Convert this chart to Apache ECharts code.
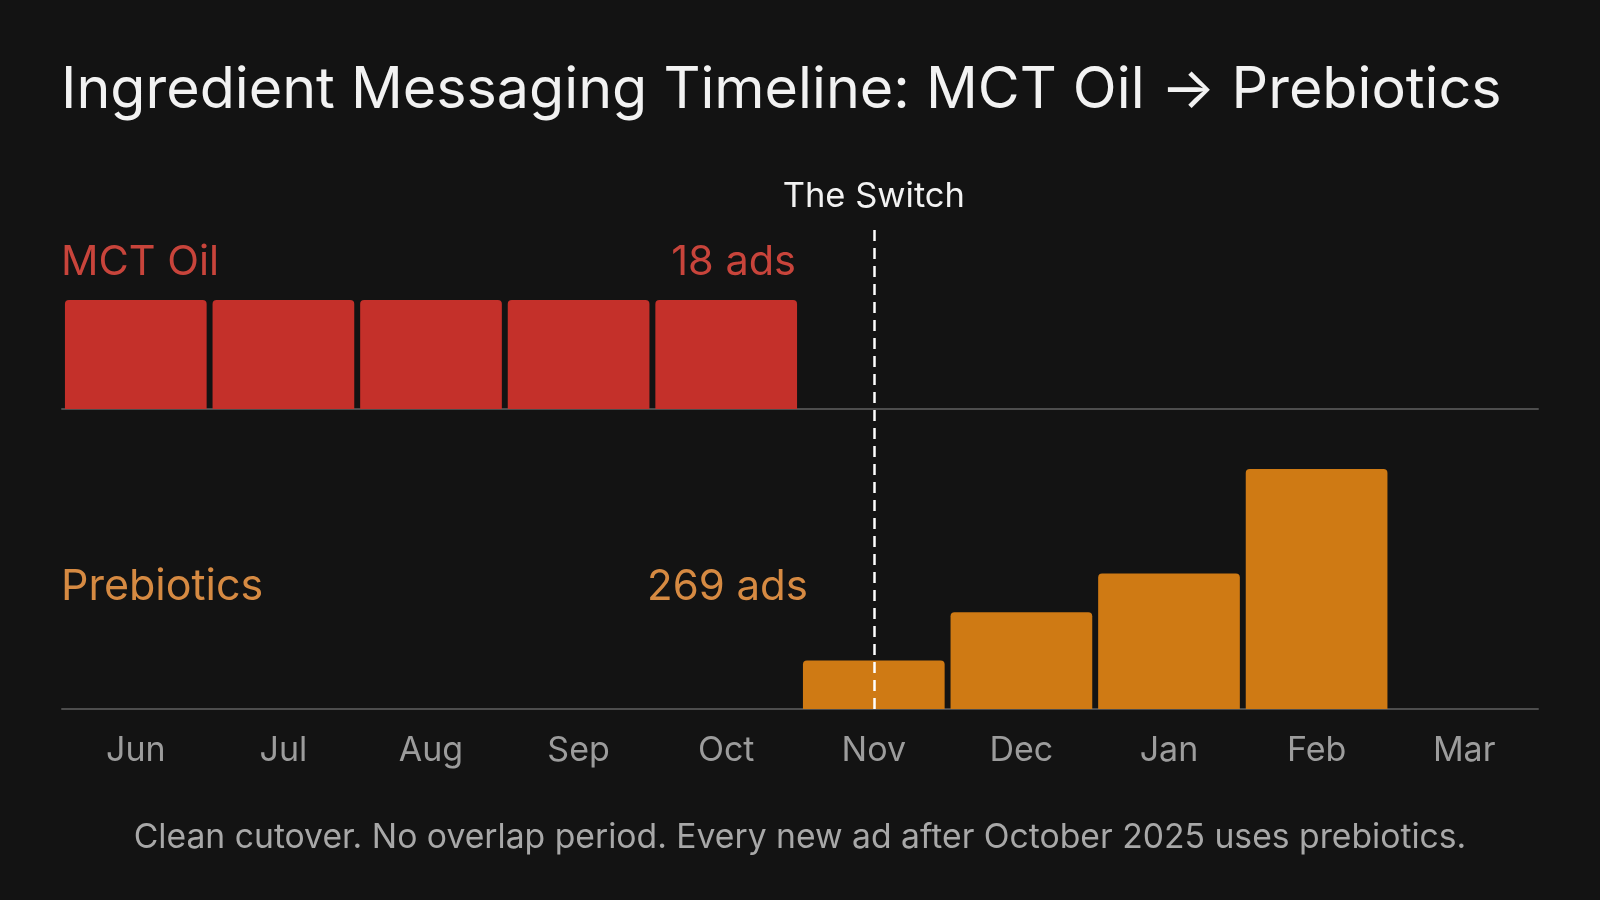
<!DOCTYPE html>
<html>
<head>
<meta charset="utf-8">
<script src="https://cdn.jsdelivr.net/npm/echarts@6/dist/echarts.min.js"></script>
<style>
  html, body { margin: 0; padding: 0; background: #131313; }
  #chart { width: 1600px; height: 900px; }
</style>
</head>
<body>
<div id="chart"></div>
<script>
const months = ['Jun', 'Jul', 'Aug', 'Sep', 'Oct', 'Nov', 'Dec', 'Jan', 'Feb', 'Mar'];
const mctOil = [3.6, 3.6, 3.6, 3.6, 3.6, null, null, null, null, null];
const prebiotics = [null, null, null, null, null, 25, 50, 70, 124, null];
const switchMonth = 'Nov';

const titleText = 'Ingredient Messaging Timeline: MCT Oil \u2192 Prebiotics';
const footerText = 'Clean cutover. No overlap period. Every new ad after October 2025 uses prebiotics.';

const sum = arr => arr.reduce((a, b) => a + (b || 0), 0);
const mctTotal = Math.round(sum(mctOil));
const preTotal = Math.round(sum(prebiotics));

const FONT = 'Inter, "Noto Sans", sans-serif';
const RED = '#c4302a';
const ORANGE = '#cf7a14';
const RED_TEXT = '#c8443b';
const ORANGE_TEXT = '#d68a42';

const chart = echarts.init(document.getElementById('chart'));

const axisLine = { show: true, lineStyle: { color: '#4d4d4d', width: 2 } };

chart.setOption({
  backgroundColor: '#131313',
  animation: false,
  title: [
    { text: titleText, left: 61, top: 62, padding: 0,
      textStyle: { color: '#f2f2f2', fontSize: 57.4, fontWeight: 400, fontFamily: FONT } },
    { text: 'MCT Oil', left: 61, top: 242, padding: 0,
      textStyle: { color: RED_TEXT, fontSize: 41.5, fontWeight: 400, fontFamily: FONT } },
    { text: mctTotal + ' ads', right: 804, top: 242, padding: 0,
      textStyle: { color: RED_TEXT, fontSize: 41.5, fontWeight: 400, fontFamily: FONT } },
    { text: 'Prebiotics', left: 61, top: 566, padding: 0,
      textStyle: { color: ORANGE_TEXT, fontSize: 43, fontWeight: 400, fontFamily: FONT } },
    { text: preTotal + ' ads', right: 792, top: 566, padding: 0,
      textStyle: { color: ORANGE_TEXT, fontSize: 42, fontWeight: 400, fontFamily: FONT } },
    { text: footerText, left: 'center', top: 821, padding: 0,
      textStyle: { color: '#a8a8a8', fontSize: 33.7, fontWeight: 400, fontFamily: FONT } }
  ],
  grid: [
    { left: 62, right: 62, top: 288, bottom: 491 },
    { left: 62, right: 62, top: 438, bottom: 191 },
    { left: 62, right: 62, top: 228, bottom: 191 }
  ],
  xAxis: [
    { type: 'category', gridIndex: 0, data: months, axisLine: axisLine,
      axisTick: { show: false }, axisLabel: { show: false } },
    { type: 'category', gridIndex: 1, data: months, axisLine: axisLine,
      axisTick: { show: false },
      axisLabel: { color: '#9c9c9c', fontSize: 34, fontFamily: FONT, margin: 25 } },
    { type: 'category', gridIndex: 2, data: months, show: false }
  ],
  yAxis: [
    { type: 'value', gridIndex: 0, min: 0, max: 4, show: false },
    { type: 'value', gridIndex: 1, min: 0, max: 140, show: false },
    { type: 'value', gridIndex: 2, min: 0, max: 1, show: false }
  ],
  series: [
    { type: 'bar', xAxisIndex: 0, yAxisIndex: 0, data: mctOil, barCategoryGap: '4%',
      itemStyle: { color: RED, borderRadius: [4, 4, 0, 0] } },
    { type: 'bar', xAxisIndex: 1, yAxisIndex: 1, data: prebiotics, barCategoryGap: '4%',
      itemStyle: { color: ORANGE, borderRadius: [4, 4, 0, 0] } },
    { type: 'line', xAxisIndex: 2, yAxisIndex: 2, data: [], silent: true,
      markLine: {
        silent: true, symbol: 'none',
        lineStyle: { color: '#ffffff', type: [11, 7], width: 2.5 },
        label: { show: true, position: 'end', formatter: 'The Switch', distance: 14,
                 color: '#f2f2f2', fontSize: 34.5, fontFamily: FONT },
        data: [{ xAxis: switchMonth }]
      } }
  ]
});
</script>
</body>
</html>
